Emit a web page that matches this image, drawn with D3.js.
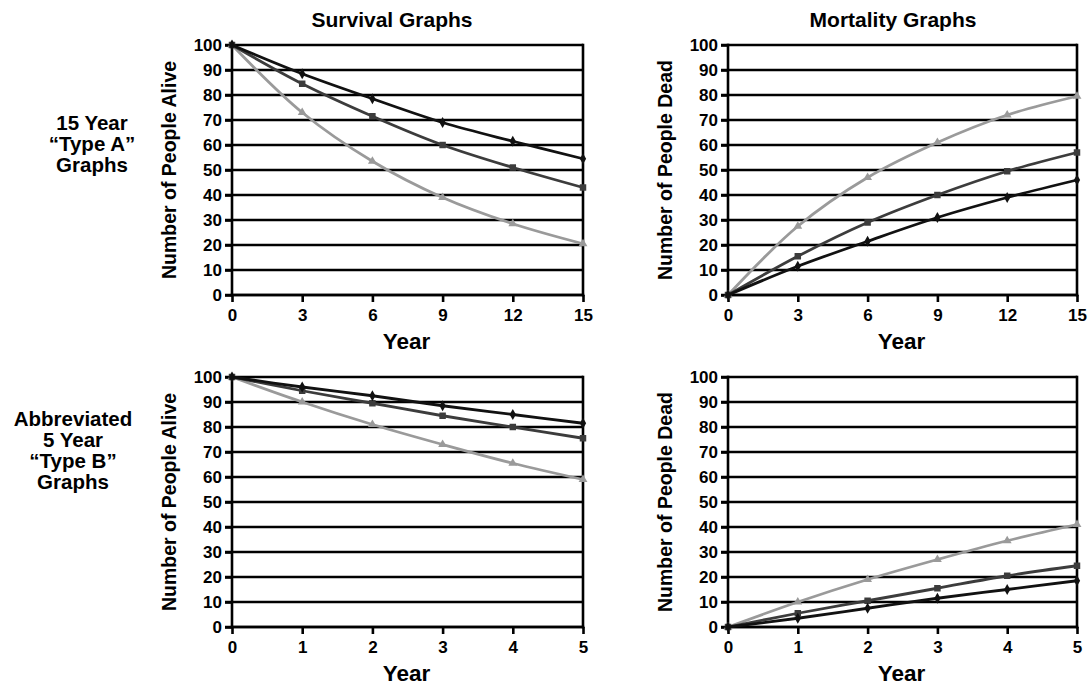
<!DOCTYPE html>
<html>
<head>
<meta charset="utf-8">
<title>Survival and Mortality Graphs</title>
<script src="https://cdn.jsdelivr.net/npm/d3@7"></script>
<style>
  body { margin: 0; background: #fff; font-family: "Liberation Sans", Arial, sans-serif; }
</style>
</head>
<body>
<div id="chart"></div>
<script>
// data
const yearsLong  = [0, 3, 6, 9, 12, 15];
const yearsShort = [0, 1, 2, 3, 4, 5];
const yTicks = [0, 10, 20, 30, 40, 50, 60, 70, 80, 90, 100];

const survivalLongA  = [100, 88.5, 78.5, 69, 61.5, 54.5];
const survivalLongB  = [100, 84.5, 71.5, 60, 51, 43];
const survivalLongC  = [100, 73, 53.5, 39, 28.5, 20.5];

const mortalityLongA = [0, 11.5, 21.5, 31, 39, 46];
const mortalityLongB = [0, 15.5, 29, 40, 49.5, 57];
const mortalityLongC = [0, 27.5, 47, 61, 72, 79.5];

const survivalShortA  = [100, 96, 92.5, 88.5, 85, 81.5];
const survivalShortB  = [100, 94.5, 89.5, 84.5, 80, 75.5];
const survivalShortC  = [100, 90, 81, 73, 65.5, 59];

const mortalityShortA = [0, 3.5, 7.5, 11.5, 15, 18.5];
const mortalityShortB = [0, 5.5, 10.5, 15.5, 20.5, 24.5];
const mortalityShortC = [0, 10, 19, 27, 34.5, 41];

const columnTitles = ["Survival Graphs", "Mortality Graphs"];
const rowLabels = [["15 Year", "\u201CType A\u201D", "Graphs"],
                   ["Abbreviated", "5 Year", "\u201CType B\u201D", "Graphs"]];

// series styles: A = black diamond, B = dark gray square, C = light gray triangle
const seriesStyle = [
  { color: "#111111", symbol: d3.symbolDiamond, size: 34 },
  { color: "#3c3c3c", symbol: d3.symbolSquare, size: 42 },
  { color: "#9a9a9a", symbol: d3.symbolTriangle, size: 34 }
];

const panels = [
  { x0: 232, x1: 583, y0: 295, y1: 45,  years: yearsLong,  ylab: "Number of People Alive", series: [survivalLongA, survivalLongB, survivalLongC] },
  { x0: 728, x1: 1077, y0: 295, y1: 45, years: yearsLong,  ylab: "Number of People Dead",  series: [mortalityLongA, mortalityLongB, mortalityLongC] },
  { x0: 232, x1: 583, y0: 627, y1: 377, years: yearsShort, ylab: "Number of People Alive", series: [survivalShortA, survivalShortB, survivalShortC] },
  { x0: 728, x1: 1077, y0: 627, y1: 377, years: yearsShort, ylab: "Number of People Dead", series: [mortalityShortA, mortalityShortB, mortalityShortC] }
];

const font = "'Liberation Sans', Arial, sans-serif";

const svg = d3.select("#chart").append("svg")
  .attr("width", 1091)
  .attr("height", 686)
  .attr("font-family", font)
  .attr("font-weight", "bold");

// column titles
svg.selectAll("text.coltitle")
  .data(columnTitles)
  .join("text")
  .attr("class", "coltitle")
  .attr("x", (d, i) => i ? 893 : 392)
  .attr("y", 27)
  .attr("text-anchor", "middle")
  .attr("font-size", 21)
  .text(d => d);

// row labels (baselines and centres per block)
const rowY = [[130, 151, 172], [426, 447, 468, 489]];
const rowX = [92, 73];
rowLabels.forEach((lines, r) => {
  svg.append("g").selectAll("text")
    .data(lines)
    .join("text")
    .attr("x", rowX[r])
    .attr("y", (d, i) => rowY[r][i])
    .attr("text-anchor", "middle")
    .attr("font-size", 20.5)
    .text(d => d);
});

panels.forEach(p => {
  const x = d3.scaleLinear().domain([0, d3.max(p.years)]).range([p.x0, p.x1]);
  const y = d3.scaleLinear().domain([0, 100]).range([p.y0, p.y1]);
  const g = svg.append("g");

  // horizontal grid
  g.append("g").selectAll("line")
    .data(yTicks)
    .join("line")
    .attr("x1", p.x0 - 7)
    .attr("x2", p.x1)
    .attr("y1", d => y(d))
    .attr("y2", d => y(d))
    .attr("stroke", "#000")
    .attr("stroke-width", 2.6);

  // right edge
  g.append("line")
    .attr("x1", p.x1).attr("x2", p.x1)
    .attr("y1", p.y1 - 1.3).attr("y2", p.y0 + 1.3)
    .attr("stroke", "#000").attr("stroke-width", 2.6);

  // y axis
  const yAxis = g.append("g")
    .attr("transform", `translate(${p.x0},0)`)
    .call(d3.axisLeft(y).tickValues(yTicks).tickSize(7).tickPadding(3));
  yAxis.select(".domain").attr("stroke-width", 2.6).attr("d", `M0,${p.y1 - 1.3}V${p.y0 + 1.3}`);
  yAxis.selectAll(".tick line").attr("stroke-width", 2.6);
  yAxis.selectAll(".tick text")
    .attr("font-size", 17)
    .attr("font-family", font)
    .attr("font-weight", "bold")
    .attr("fill", "#000");

  // x axis
  const xAxis = g.append("g")
    .attr("transform", `translate(0,${p.y0})`)
    .call(d3.axisBottom(x).tickValues(p.years).tickFormat(d3.format("d")).tickSize(7).tickPadding(7));
  xAxis.select(".domain").attr("stroke-width", 2.6).attr("d", `M${p.x0 - 1.3},0H${p.x1 + 1.3}`);
  xAxis.selectAll(".tick line").attr("stroke-width", 2.6);
  xAxis.selectAll(".tick text")
    .attr("font-size", 17)
    .attr("font-family", font)
    .attr("font-weight", "bold")
    .attr("fill", "#000");

  // axis titles
  g.append("text")
    .attr("x", (p.x0 + p.x1) / 2 - 1)
    .attr("y", p.y0 + 54)
    .attr("text-anchor", "middle")
    .attr("font-size", 22.5)
    .text("Year");

  g.append("text")
    .attr("transform", `translate(${p.x0 - 56},${(p.y0 + p.y1) / 2}) rotate(-90)`)
    .attr("text-anchor", "middle")
    .attr("font-size", 19.5)
    .text(p.ylab);

  // series, drawn light first so dark lines sit on top
  const line = d3.line()
    .x((d, i) => x(p.years[i]))
    .y(d => y(d))
    .curve(d3.curveCatmullRom.alpha(0.5));

  [2, 1, 0].forEach(k => {
    const vals = p.series[k];
    const st = seriesStyle[k];
    g.append("path")
      .datum(vals)
      .attr("fill", "none")
      .attr("stroke", st.color)
      .attr("stroke-width", 2.8)
      .attr("d", line);
    g.append("g").selectAll("path")
      .data(vals)
      .join("path")
      .attr("transform", (d, i) => `translate(${x(p.years[i])},${y(d)})`)
      .attr("d", d3.symbol().type(st.symbol).size(st.size))
      .attr("fill", st.color);
  });
});
</script>
</body>
</html>
